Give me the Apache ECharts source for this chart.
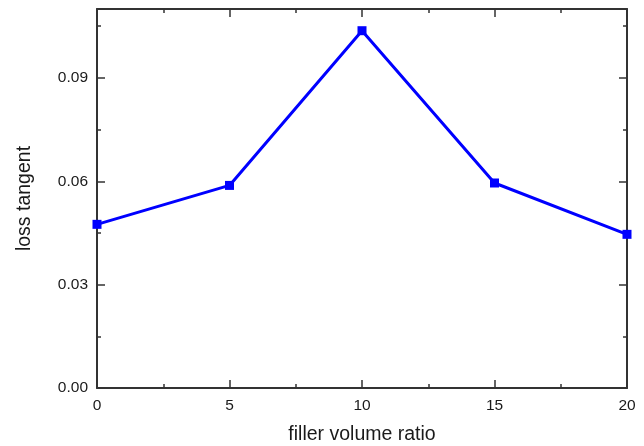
<!DOCTYPE html>
<html>
<head>
<meta charset="utf-8">
<script src="https://cdn.jsdelivr.net/npm/echarts@6/dist/echarts.min.js"></script>
<style>
  html, body { margin: 0; padding: 0; background: #fff; }
  #chart { width: 644px; height: 446px; }
</style>
</head>
<body>
<div id="chart"></div>
<script>
// filler volume ratio vs. loss tangent
const fillerRatio = [0, 5, 10, 15, 20];
const lossTangent = [0.0475, 0.0588, 0.1037, 0.0595, 0.0446];

const axisColor = '#333';
const textColor = '#1a1a1a';
const fontFamily = '"Liberation Sans", Arial, sans-serif';

const frameAxis = {
  axisLine: { show: true, onZero: false, lineStyle: { color: axisColor, width: 2 } },
  axisTick: { show: true, inside: true, length: 8, lineStyle: { color: axisColor, width: 1.5 } },
  minorTick: { show: true, splitNumber: 2, length: 4, lineStyle: { color: axisColor, width: 1.5 } },
  splitLine: { show: false }
};

const chart = echarts.init(document.getElementById('chart'), null, { renderer: 'canvas' });
chart.setOption({
  animation: false,
  backgroundColor: '#fff',
  grid: { left: 97, right: 17, top: 9, bottom: 58, containLabel: false, outerBoundsMode: 'none' },
  xAxis: [
    Object.assign({
      type: 'value', min: 0, max: 20, interval: 5, position: 'bottom',
      name: 'filler volume ratio', nameLocation: 'middle', nameGap: 37,
      nameTextStyle: { fontSize: 19.5, color: textColor, fontFamily: fontFamily },
      axisLabel: { margin: 10, fontSize: 15.5, color: textColor, fontFamily: fontFamily }
    }, frameAxis),
    Object.assign({
      type: 'value', min: 0, max: 20, interval: 5, position: 'top',
      axisLabel: { show: false }
    }, frameAxis)
  ],
  yAxis: [
    Object.assign({
      type: 'value', min: 0, max: 0.11, interval: 0.03, position: 'left',
      name: 'loss tangent', nameLocation: 'middle', nameGap: 62,
      nameTextStyle: { fontSize: 19.5, color: textColor, fontFamily: fontFamily },
      axisLabel: {
        margin: 9, fontSize: 15.5, color: textColor, fontFamily: fontFamily,
        showMaxLabel: false,
        formatter: v => v.toFixed(2)
      }
    }, frameAxis),
    Object.assign({
      type: 'value', min: 0, max: 0.11, interval: 0.03, position: 'right',
      axisLabel: { show: false }
    }, frameAxis)
  ],
  series: [{
    type: 'line',
    xAxisIndex: 0,
    yAxisIndex: 0,
    data: fillerRatio.map((x, i) => [x, lossTangent[i]]),
    symbol: 'rect',
    symbolSize: 9,
    showAllSymbol: true,
    clip: false,
    lineStyle: { color: '#0000ff', width: 3 },
    itemStyle: { color: '#0000ff', borderWidth: 0 }
  }]
});
</script>
</body>
</html>
